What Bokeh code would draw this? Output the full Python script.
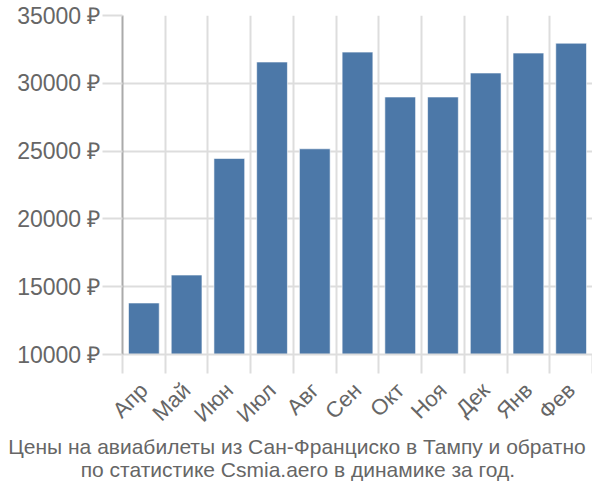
import math
from bokeh.plotting import figure
from bokeh.models import FixedTicker, Range1d, Title, ColumnDataSource
from bokeh.embed import file_html
from bokeh.resources import INLINE

months = ["Апр", "Май", "Июн", "Июл", "Авг", "Сен", "Окт", "Ноя", "Дек", "Янв", "Фев"]
prices = [13800, 15860, 24460, 31570, 25170, 32300, 28990, 28990, 30760, 32230, 32960]
y_ticks = [10000, 15000, 20000, 25000, 30000, 35000]
title_lines = ["Цены на авиабилеты из Сан-Франциско в Тампу и обратно",
               "по статистике Csmia.aero в динамике за год."]

FONT = "Liberation Sans"
TXT = "#666666"
GRID = "#dddddd"
W, H = 592, 484
LEFT = 122
CAP_SIZE = 21

n = len(months)
centers = [i + 0.5 for i in range(n)]
bounds = [float(i) for i in range(n + 1)]

src = ColumnDataSource(dict(x=centers, top=prices, m=months))

p = figure(width=W, height=H, output_backend="svg", toolbar_location=None,
           x_range=Range1d(0, n), y_range=Range1d(10000, 35000),
           min_border_left=LEFT, min_border_right=0, min_border_top=15, min_border_bottom=129)
p.outline_line_color = None
p.background_fill_color = "white"

p.vbar(x="x", top="top", bottom=10000, width=0.72, source=src,
       fill_color="#4c78a8", line_color="white", line_alpha=0.6, line_width=1)

# x axis
p.xaxis.ticker = FixedTicker(ticks=centers, minor_ticks=bounds)
p.xaxis.major_label_overrides = {c: m for c, m in zip(centers, months)}
p.xaxis.major_label_orientation = math.pi / 4
p.xaxis.major_tick_out = 0
p.xaxis.major_tick_in = 0
p.xaxis.minor_tick_out = 19
p.xaxis.minor_tick_in = 0
p.xaxis.minor_tick_line_color = GRID
p.xaxis.minor_tick_line_width = 2
p.xaxis.axis_line_color = GRID
p.xaxis.axis_line_width = 2
p.xaxis.major_label_text_font = FONT
p.xaxis.major_label_text_font_size = "22px"
p.xaxis.major_label_text_color = TXT
p.xaxis.major_label_standoff = 13

# y axis
p.yaxis.ticker = FixedTicker(ticks=y_ticks)
p.yaxis.major_label_overrides = {t: f"{t} ₽" for t in y_ticks}
p.yaxis.minor_tick_line_color = None
p.yaxis.major_tick_out = 20
p.yaxis.major_tick_in = 0
p.yaxis.major_tick_line_color = GRID
p.yaxis.major_tick_line_width = 2
p.yaxis.axis_line_color = "#aaaaaa"
p.yaxis.axis_line_width = 2
p.yaxis.major_label_text_font = FONT
p.yaxis.major_label_text_font_size = "23px"
p.yaxis.major_label_text_color = TXT
p.yaxis.major_label_standoff = 2

# grids
p.xgrid.ticker = FixedTicker(ticks=bounds)
p.xgrid.grid_line_color = GRID
p.xgrid.grid_line_width = 2
p.ygrid.ticker = FixedTicker(ticks=y_ticks)
p.ygrid.grid_line_color = GRID
p.ygrid.grid_line_width = 2

# caption: two lines, left-aligned titles shifted so that each is centred on the figure
approx_w = [549 * CAP_SIZE / 20, 411 * CAP_SIZE / 20]
standoffs = [-12, 8]
for line, w, so in zip(title_lines, approx_w, standoffs):
    off = (W / 2 - w / 2) - LEFT
    p.add_layout(Title(text=line, align="left", offset=off, text_font=FONT,
                       text_font_size=f"{CAP_SIZE}px", text_color=TXT,
                       text_font_style="normal", standoff=so), "below")

open("out.html", "w").write(file_html(p, INLINE))
